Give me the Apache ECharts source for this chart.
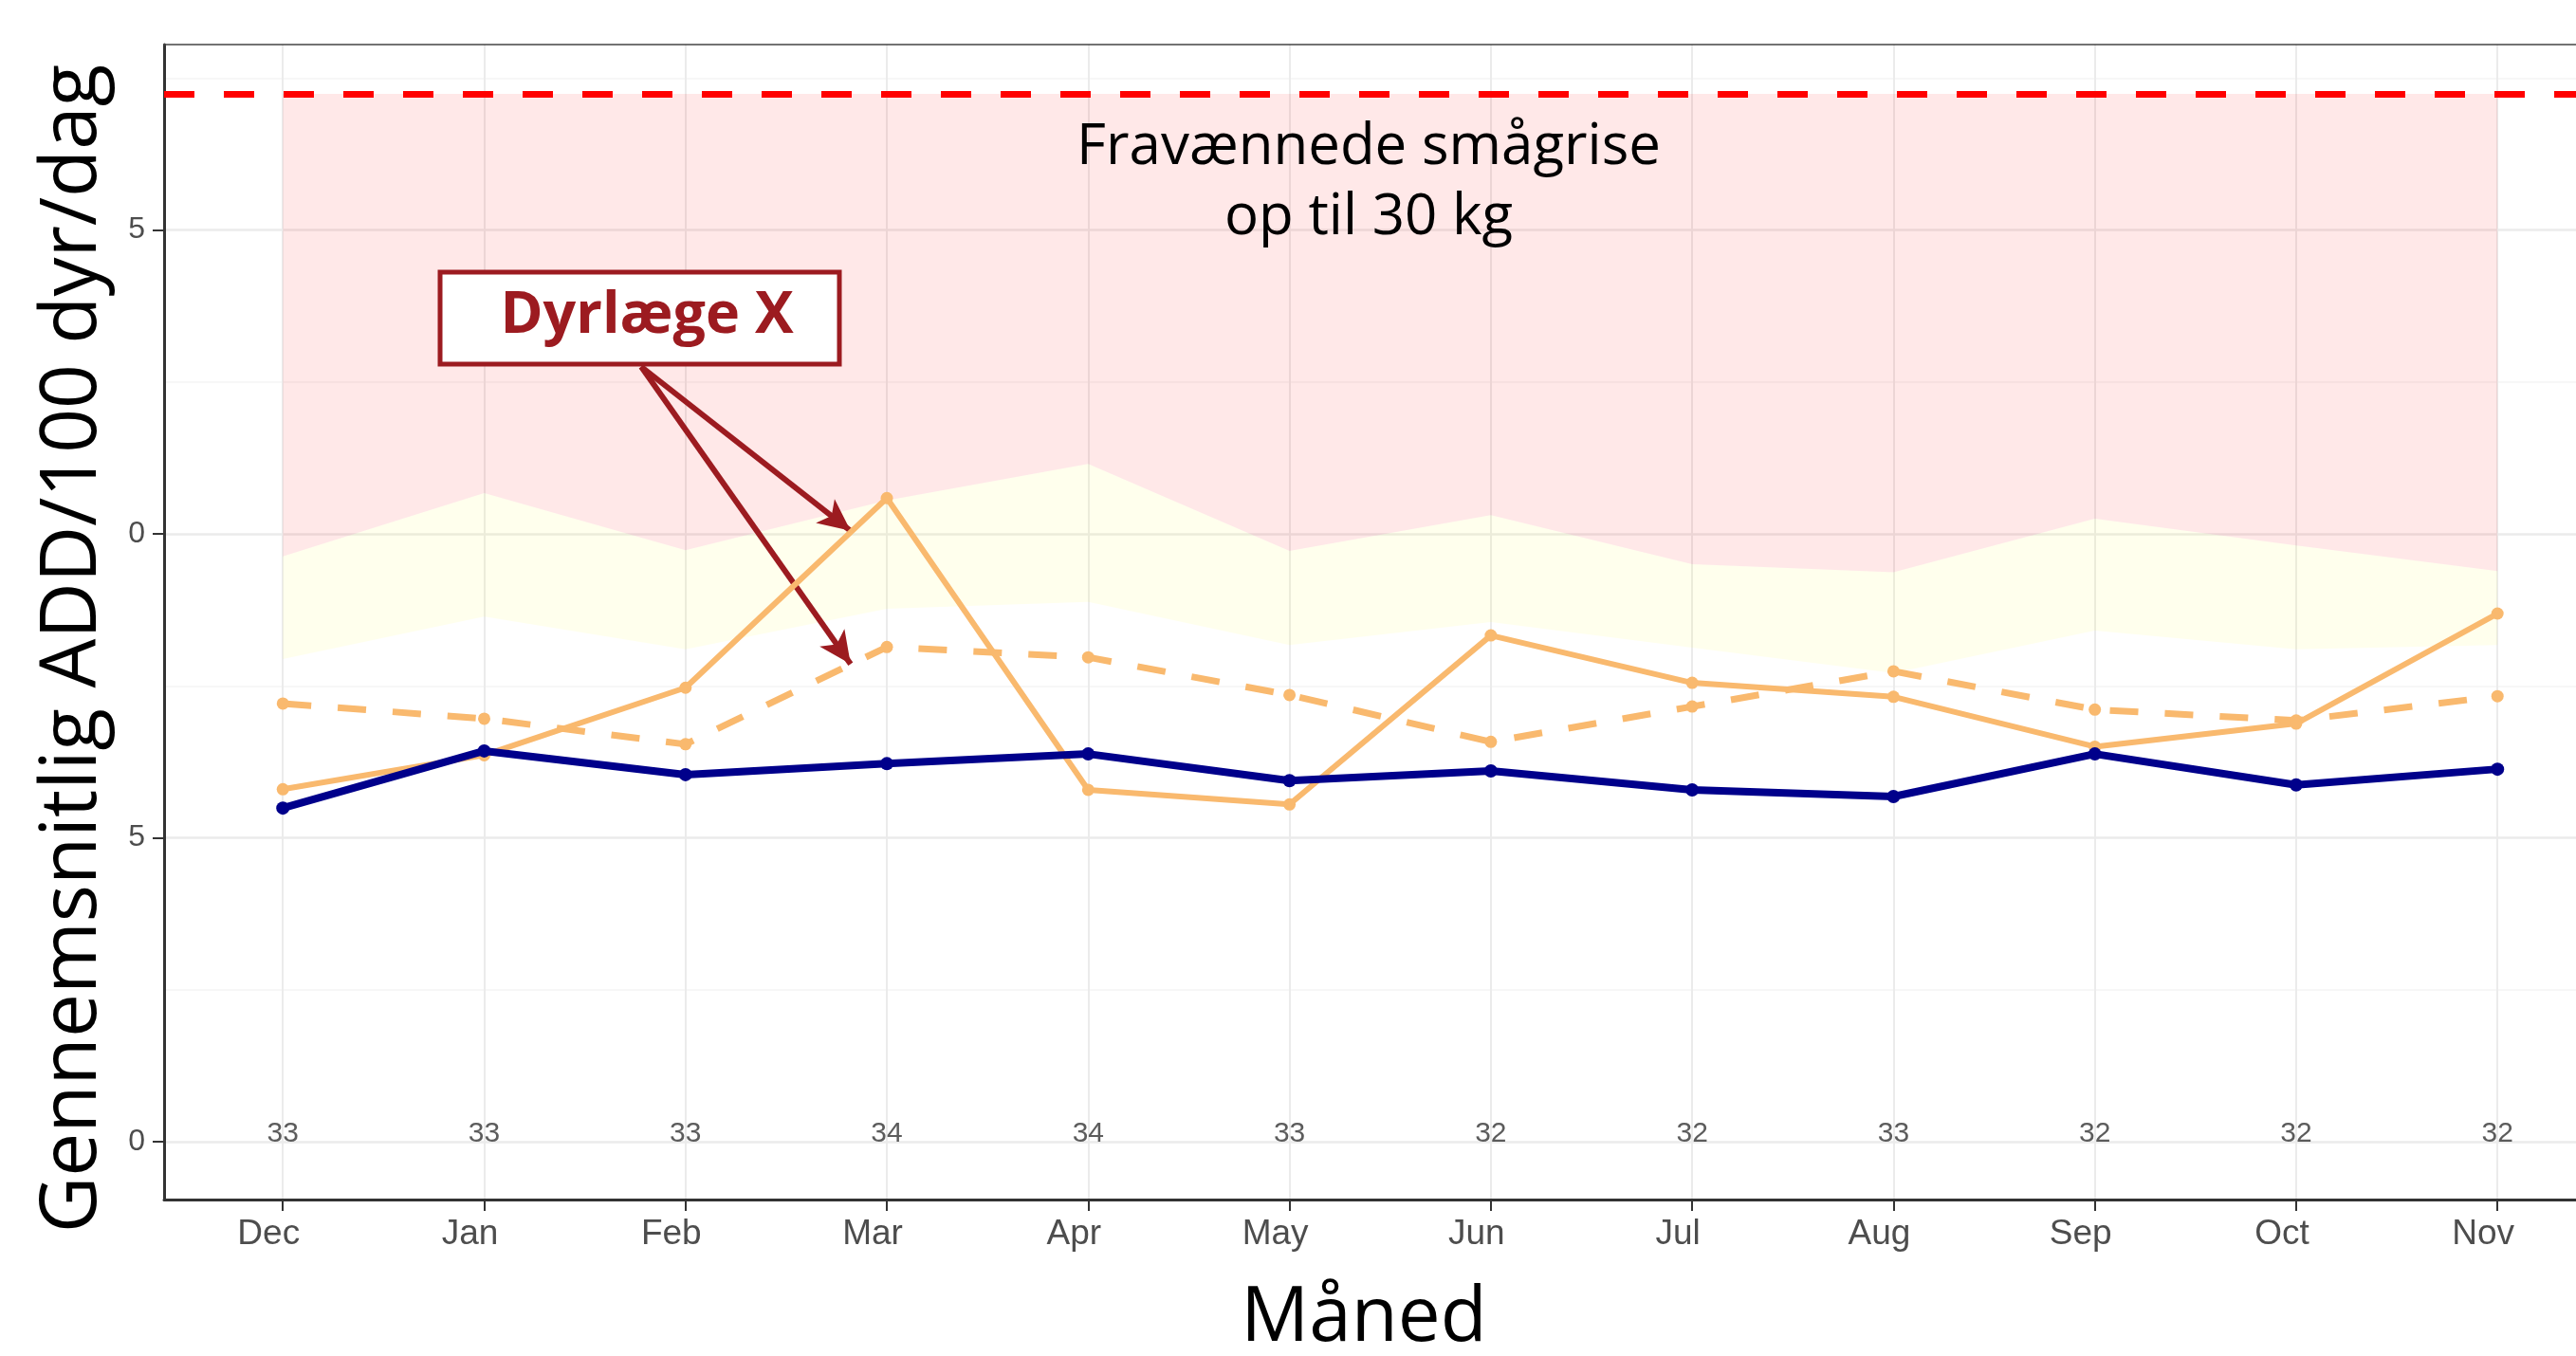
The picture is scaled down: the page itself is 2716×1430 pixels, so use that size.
<!DOCTYPE html>
<html>
<head>
<meta charset="utf-8">
<script src="https://cdn.jsdelivr.net/npm/echarts@6/dist/echarts.min.js"></script>
<style>
  html, body { margin: 0; padding: 0; background: #fff; }
  #chart { width: 2716px; height: 1430px; }
</style>
</head>
<body>
<div id="chart"></div>
<script>
// months and values
const months = ['Dec', 'Jan', 'Feb', 'Mar', 'Apr', 'May', 'Jun', 'Jul', 'Aug', 'Sep', 'Oct', 'Nov'];
const counts = [33, 33, 33, 34, 34, 33, 32, 32, 33, 32, 32, 32];
const vetX = [5.80, 6.36, 7.47, 10.59, 5.79, 5.55, 8.33, 7.55, 7.32, 6.50, 6.88, 8.69];
const vetXDashed = [7.21, 6.96, 6.54, 8.14, 7.97, 7.35, 6.58, 7.16, 7.74, 7.11, 6.93, 7.33];
const allVets = [5.49, 6.43, 6.04, 6.22, 6.38, 5.94, 6.10, 5.79, 5.68, 6.38, 5.87, 6.13];
const yellowLower = [7.94, 8.64, 8.10, 8.77, 8.88, 8.17, 8.55, 8.13, 7.71, 8.41, 8.10, 8.17];
const pinkLower = [9.63, 10.67, 9.73, 10.55, 11.15, 9.72, 10.31, 9.50, 9.37, 10.25, 9.81, 9.39];
const limitValue = 17.24;

// axis ticks
const yTickValues = [0, 5, 10, 15];
const yTickLabels = ['0', '5', '0', '5'];
const yMinorValues = [2.5, 7.5, 12.5, 17.5];
const xTickValues = months.map((m, i) => i);

// annotation arrows (data coords)
const arrowStart = [1.78, 12.75];
const arrowTips = [[2.82, 10.05], [2.82, 7.86]];

const orange = '#f9b96e';
const navy = '#00008b';
const darkRed = '#9c1b20';

let chart = echarts.init(document.getElementById('chart'));

let option = {
    animation: false,
    backgroundColor: '#fff',
    grid: {left: 173, top: 47, right: 0, bottom: 165},
    xAxis: [
        {
            type: 'value', min: -0.59, max: 11.39,
            axisLine: {show: true, onZero: false, lineStyle: {color: '#333', width: 3}},
            axisTick: {show: true, length: 12, customValues: xTickValues, lineStyle: {color: '#333', width: 2}},
            axisLabel: {
                customValues: xTickValues,
                formatter: v => months[Math.round(v)],
                fontSize: 37, color: '#4d4d4d', margin: 18,
                fontFamily: 'Liberation Sans', padding: [0, 30, 0, 0]
            },
            splitLine: {show: true, lineStyle: {color: '#ebebeb', width: 2}}
        },
        {
            // top panel border
            type: 'value', position: 'top', min: -0.59, max: 11.39,
            axisLine: {show: true, onZero: false, lineStyle: {color: '#444', width: 1.5}},
            axisTick: {show: false},
            axisLabel: {show: false},
            splitLine: {show: false}
        }
    ],
    yAxis: [
        {
            type: 'value', min: -0.95, max: 18.05,
            axisLine: {show: true, onZero: false, lineStyle: {color: '#333', width: 3}},
            axisTick: {show: true, length: 12, customValues: yTickValues, lineStyle: {color: '#333', width: 2}},
            axisLabel: {
                customValues: yTickValues,
                formatter: v => yTickLabels[yTickValues.indexOf(v)],
                fontSize: 32, color: '#4d4d4d', margin: 20, fontFamily: 'Liberation Sans'
            },
            splitLine: {show: true, lineStyle: {color: '#ebebeb', width: 2.5}}
        },
        {
            type: 'value', min: -0.95, max: 18.05, position: 'left',
            axisLine: {show: false},
            axisTick: {show: false, customValues: yMinorValues},
            axisLabel: {show: false, customValues: yMinorValues},
            splitLine: {show: true, lineStyle: {color: '#f4f4f4', width: 1.5}}
        }
    ],
    series: [
        {
            type: 'custom',
            silent: true,
            z: 1,
            data: [[0, 0]],
            renderItem: function (params, api) {
                const top = months.map((m, i) => api.coord([i, limitValue]));
                const pink = months.map((m, i) => api.coord([i, pinkLower[i]]));
                const yellow = months.map((m, i) => api.coord([i, yellowLower[i]]));
                return {
                    type: 'group',
                    children: [
                        {type: 'polygon', shape: {points: top.concat(pink.slice().reverse())},
                            style: {fill: 'rgba(250,0,0,0.09)'}},
                        {type: 'polygon', shape: {points: pink.concat(yellow.slice().reverse())},
                            style: {fill: 'rgba(255,255,0,0.07)'}}
                    ]
                };
            }
        },
        {
            type: 'scatter',
            z: 3,
            silent: true,
            symbolSize: 1,
            itemStyle: {color: 'transparent'},
            data: counts.map((c, i) => [i, 0]),
            label: {
                show: true, position: 'inside', offset: [0, -8],
                formatter: p => counts[p.dataIndex],
                fontSize: 30, color: '#333', fontFamily: 'Liberation Sans'
            },
            markLine: {
                silent: true,
                symbol: ['none', 'none'],
                label: {show: false},
                lineStyle: {color: '#ff0000', width: 7, type: [32, 31], opacity: 1},
                data: [{yAxis: limitValue}]
            }
        },
        {
            type: 'line',
            z: 4,
            data: vetXDashed.map((v, i) => [i, v]),
            symbol: 'circle', symbolSize: 13,
            itemStyle: {color: orange},
            lineStyle: {color: orange, width: 7, type: [30, 28]}
        },
        {
            type: 'line',
            z: 5,
            data: vetX.map((v, i) => [i, v]),
            symbol: 'circle', symbolSize: 13,
            itemStyle: {color: orange},
            lineStyle: {color: orange, width: 6}
        },
        {
            type: 'line',
            z: 6,
            data: allVets.map((v, i) => [i, v]),
            symbol: 'circle', symbolSize: 14,
            itemStyle: {color: navy},
            lineStyle: {color: navy, width: 8},
            markLine: {
                silent: true,
                symbol: ['none', 'arrow'],
                symbolSize: [24, 34],
                label: {show: false},
                lineStyle: {color: darkRed, width: 6, type: 'solid', opacity: 1},
                data: arrowTips.map(t => [{coord: arrowStart}, {coord: t}])
            }
        }
    ],
    graphic: [
        {
            type: 'text', x: 78, y: 684, rotation: Math.PI / 2,
            style: {
                text: 'Gennemsnitlig ADD/100 dyr/dag', fontSize: 82, fontFamily: 'Open Sans',
                fill: '#000', align: 'center', verticalAlign: 'middle'
            }
        },
        {
            type: 'text', x: 1438, y: 1391,
            style: {
                text: 'Måned', fontSize: 80, fontFamily: 'Open Sans',
                fill: '#000', align: 'center', verticalAlign: 'middle'
            }
        },
        {
            type: 'text', x: 1443, y: 193, z: 10,
            style: {
                text: 'Fravænnede smågrise\nop til 30 kg', fontSize: 60, lineHeight: 74,
                fontFamily: 'Open Sans', fill: '#000', align: 'center', verticalAlign: 'middle'
            }
        },
        {
            type: 'rect', z: 10,
            shape: {x: 464, y: 287, width: 421, height: 97},
            style: {fill: '#fff', stroke: darkRed, lineWidth: 5}
        },
        {
            type: 'text', x: 682, y: 334, z: 11,
            style: {
                text: 'Dyrlæge X', fontSize: 61, fontWeight: 'bold', fontFamily: 'Open Sans',
                fill: darkRed, align: 'center', verticalAlign: 'middle'
            }
        }
    ]
};

chart.setOption(option);
</script>
</body>
</html>
